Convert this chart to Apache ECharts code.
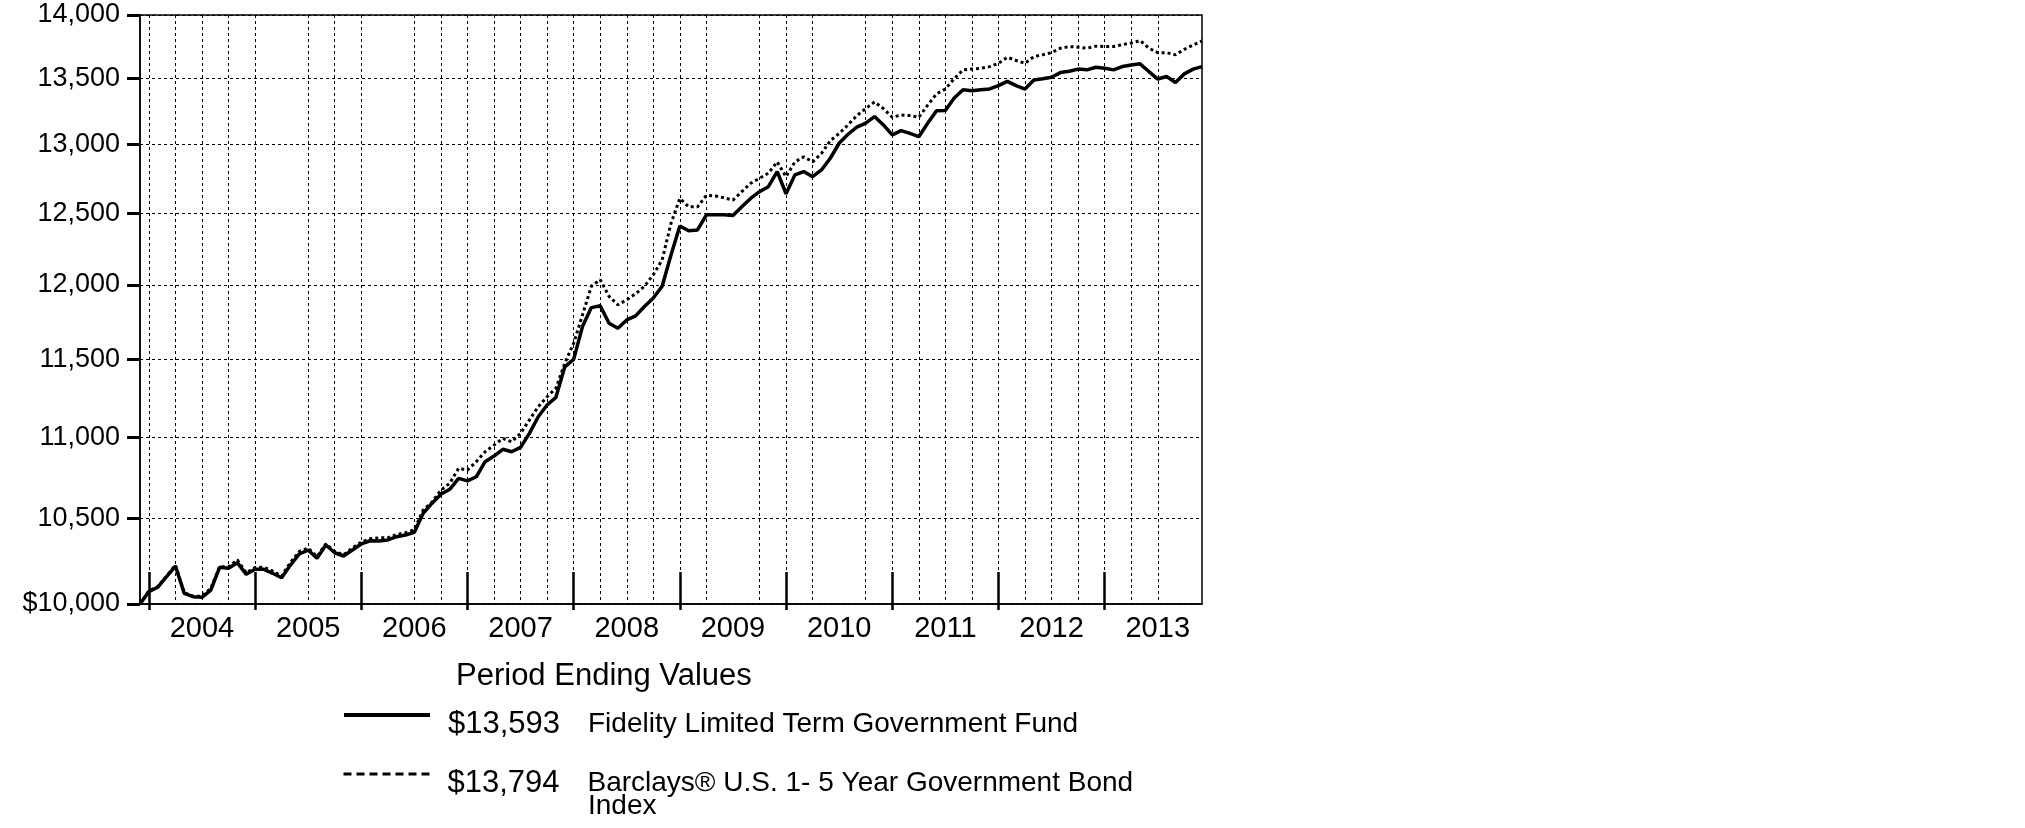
<!DOCTYPE html>
<html>
<head>
<meta charset="utf-8">
<title>Period Ending Values</title>
<script src="https://cdn.jsdelivr.net/npm/echarts@6/dist/echarts.min.js"></script>
<style>
  html, body { margin: 0; padding: 0; background: #fff; }
  #chart { width: 2025px; height: 828px; }
</style>
</head>
<body>
<div id="chart"></div>
<script>
// monthly values, Nov 2003 .. Nov 2013 (hypothetical $10,000)
var fundName = 'Fidelity Limited Term Government Fund';
var indexName = 'Barclays® U.S. 1- 5 Year Government Bond Index';
var indexLine1 = 'Barclays® U.S. 1- 5 Year Government Bond';
var indexLine2 = 'Index';
var startYear = 2003, startMonth = 11;

var fundValues = [
  10000, 10071, 10096, 10157, 10219, 10061, 10042, 10038, 10080, 10212, 10206, 10239,
  10171, 10200, 10200, 10177, 10151, 10225, 10290, 10313, 10265, 10343, 10297, 10278,
  10313, 10349, 10368, 10367, 10373, 10392, 10402, 10418, 10532, 10593, 10647, 10677,
  10744, 10729, 10754, 10847, 10882, 10924, 10909, 10936, 11024, 11129, 11204, 11253,
  11451, 11500, 11718, 11845, 11857, 11740, 11706, 11762, 11789, 11852, 11910, 11990,
  12207, 12410, 12377, 12382, 12490, 12490, 12490, 12485, 12547, 12607, 12656, 12692,
  12802, 12641, 12778, 12802, 12765, 12814, 12900, 13011, 13078, 13131, 13161, 13211,
  13148, 13073, 13105, 13084, 13060, 13161, 13254, 13256, 13351, 13415, 13407, 13415,
  13421, 13446, 13479, 13446, 13420, 13490, 13500, 13511, 13547, 13557, 13574, 13568,
  13588, 13580, 13568, 13594, 13605, 13615, 13555, 13497, 13517, 13471, 13537, 13574,
  13593
];
var indexValues = [
  10000, 10075, 10100, 10160, 10225, 10065, 10045, 10045, 10090, 10215, 10215, 10255,
  10180, 10210, 10212, 10190, 10160, 10240, 10305, 10325, 10275, 10350, 10305, 10285,
  10325, 10360, 10380, 10385, 10385, 10405, 10415, 10434, 10552, 10600, 10672, 10714,
  10806, 10795, 10847, 10909, 10950, 10992, 10971, 11024, 11108, 11193, 11257, 11312,
  11474, 11606, 11796, 11990, 12036, 11921, 11864, 11898, 11939, 11990, 12070, 12172,
  12429, 12607, 12547, 12547, 12629, 12625, 12612, 12595, 12656, 12717, 12753, 12790,
  12873, 12765, 12873, 12910, 12873, 12935, 13030, 13084, 13148, 13218, 13271, 13322,
  13271, 13206, 13223, 13218, 13206, 13297, 13383, 13420, 13500, 13568, 13574, 13580,
  13593, 13619, 13666, 13641, 13619, 13671, 13686, 13702, 13737, 13750, 13745, 13737,
  13753, 13750, 13750, 13765, 13777, 13797, 13737, 13702, 13702, 13685, 13728, 13762,
  13794
];
var yTicks = [10000, 10500, 11000, 11500, 12000, 12500, 13000, 13500, 14000];
// month indexes that get a dotted vertical grid line
var gridIdx = [1, 4, 7, 10, 13, 19, 22, 25, 31, 34, 37, 40, 43, 46, 49, 52, 55, 58,
  61, 64, 70, 73, 76, 82, 85, 88, 91, 94, 97, 100, 103, 106, 109, 112, 115];

var months = [];
for (var i = 0; i < fundValues.length; i++) {
  var m = startMonth - 1 + i;
  months.push((startYear + Math.floor(m / 12)) + '-' + ('0' + (m % 12 + 1)).slice(-2));
}

function money(v) {
  return '$' + Math.round(v).toLocaleString('en-US');
}
function isYearEnd(i) { return i % 12 === 1; }

var font = '"Liberation Sans", Arial, Helvetica, sans-serif';
var dotted = { color: '#000', type: [3, 3], width: 1 };
var legendRich = {
  v: { fontSize: 31, width: 140, padding: [0, 0, 0, 13], fontFamily: font, color: '#000' },
  n: { fontSize: 28, fontFamily: font, color: '#000' }
};

var chart = echarts.init(document.getElementById('chart'));
chart.setOption({
  animation: false,
  textStyle: { fontFamily: font, color: '#000' },
  title: {
    text: 'Period Ending Values',
    left: 456,
    top: 661,
    padding: 0,
    textStyle: { fontSize: 31, fontWeight: 'normal', color: '#000', fontFamily: font }
  },
  grid: {
    left: 140, top: 15, right: 823, bottom: 224,
    show: true, borderColor: '#000', borderWidth: 1.5
  },
  legend: [{
    data: [{ name: fundName, itemStyle: { opacity: 0 }, lineStyle: { width: 4, type: 'solid' } }],
    left: 342, top: 703, padding: 0,
    itemWidth: 86, itemHeight: 30,
    selectedMode: false,
    formatter: function (name) {
      return '{v|' + money(fundValues[fundValues.length - 1]) + '}{n|' + name + '}';
    },
    textStyle: { padding: [18, 0, 0, 0], rich: legendRich }
  }, {
    data: [{ name: indexName, itemStyle: { opacity: 0 }, lineStyle: { width: 3, type: [8, 5] } }],
    left: 342, top: 762, padding: 0,
    itemWidth: 86, itemHeight: 30,
    selectedMode: false,
    formatter: function () {
      return '{v|' + money(indexValues[indexValues.length - 1]) + '}{n|' + indexLine1 + '}';
    },
    textStyle: { padding: [18, 0, 0, 0], rich: legendRich }
  }],
  graphic: [{
    type: 'text',
    left: 588,
    top: 792,
    style: { text: indexLine2, font: '28px ' + font, fill: '#000' }
  }],
  xAxis: [{
    type: 'category',
    data: months,
    boundaryGap: false,
    axisLine: { lineStyle: { color: '#000', width: 1.5 } },
    axisTick: {
      inside: true, length: 32, interval: isYearEnd,
      lineStyle: { color: '#000', width: 2.5 }
    },
    axisLabel: {
      interval: function (i) { return i % 12 === 7; },
      formatter: function (v) { return v.slice(0, 4); },
      fontSize: 29, color: '#000', margin: 10
    },
    splitLine: { show: false }
  }, {
    // short part of the year ticks below the axis
    type: 'category',
    data: months,
    boundaryGap: false,
    position: 'bottom',
    axisLine: { show: false },
    axisLabel: { show: false },
    splitLine: { show: false },
    axisTick: { length: 6, interval: isYearEnd, lineStyle: { color: '#000', width: 2.5 } }
  }, {
    // month-index axis, only used for the dotted vertical grid
    type: 'value',
    min: 0,
    max: months.length - 1,
    position: 'top',
    axisLine: { show: false },
    axisLabel: { show: false },
    axisTick: { show: true, length: 0, customValues: gridIdx },
    splitLine: { show: true, lineStyle: dotted }
  }],
  yAxis: {
    type: 'log',
    logBase: 10,
    min: 10000,
    max: 14000,
    axisLine: { show: true, lineStyle: { color: '#000', width: 1.5 } },
    axisTick: { show: true, length: 13, customValues: yTicks, lineStyle: { color: '#000', width: 3 } },
    axisLabel: {
      customValues: yTicks,
      fontSize: 27, color: '#000', margin: 20,
      formatter: function (v) {
        var r = Math.round(v);
        return r === 10000 ? money(r) : r.toLocaleString('en-US');
      }
    },
    splitLine: { show: true, lineStyle: dotted }
  },
  series: [{
    name: indexName,
    type: 'line',
    data: indexValues,
    symbol: 'none',
    lineStyle: { color: '#000', width: 3, type: [3, 3] },
    itemStyle: { color: '#000' }
  }, {
    name: fundName,
    type: 'line',
    data: fundValues,
    symbol: 'none',
    lineStyle: { color: '#000', width: 3.5 },
    itemStyle: { color: '#000' }
  }]
});
</script>
</body>
</html>
